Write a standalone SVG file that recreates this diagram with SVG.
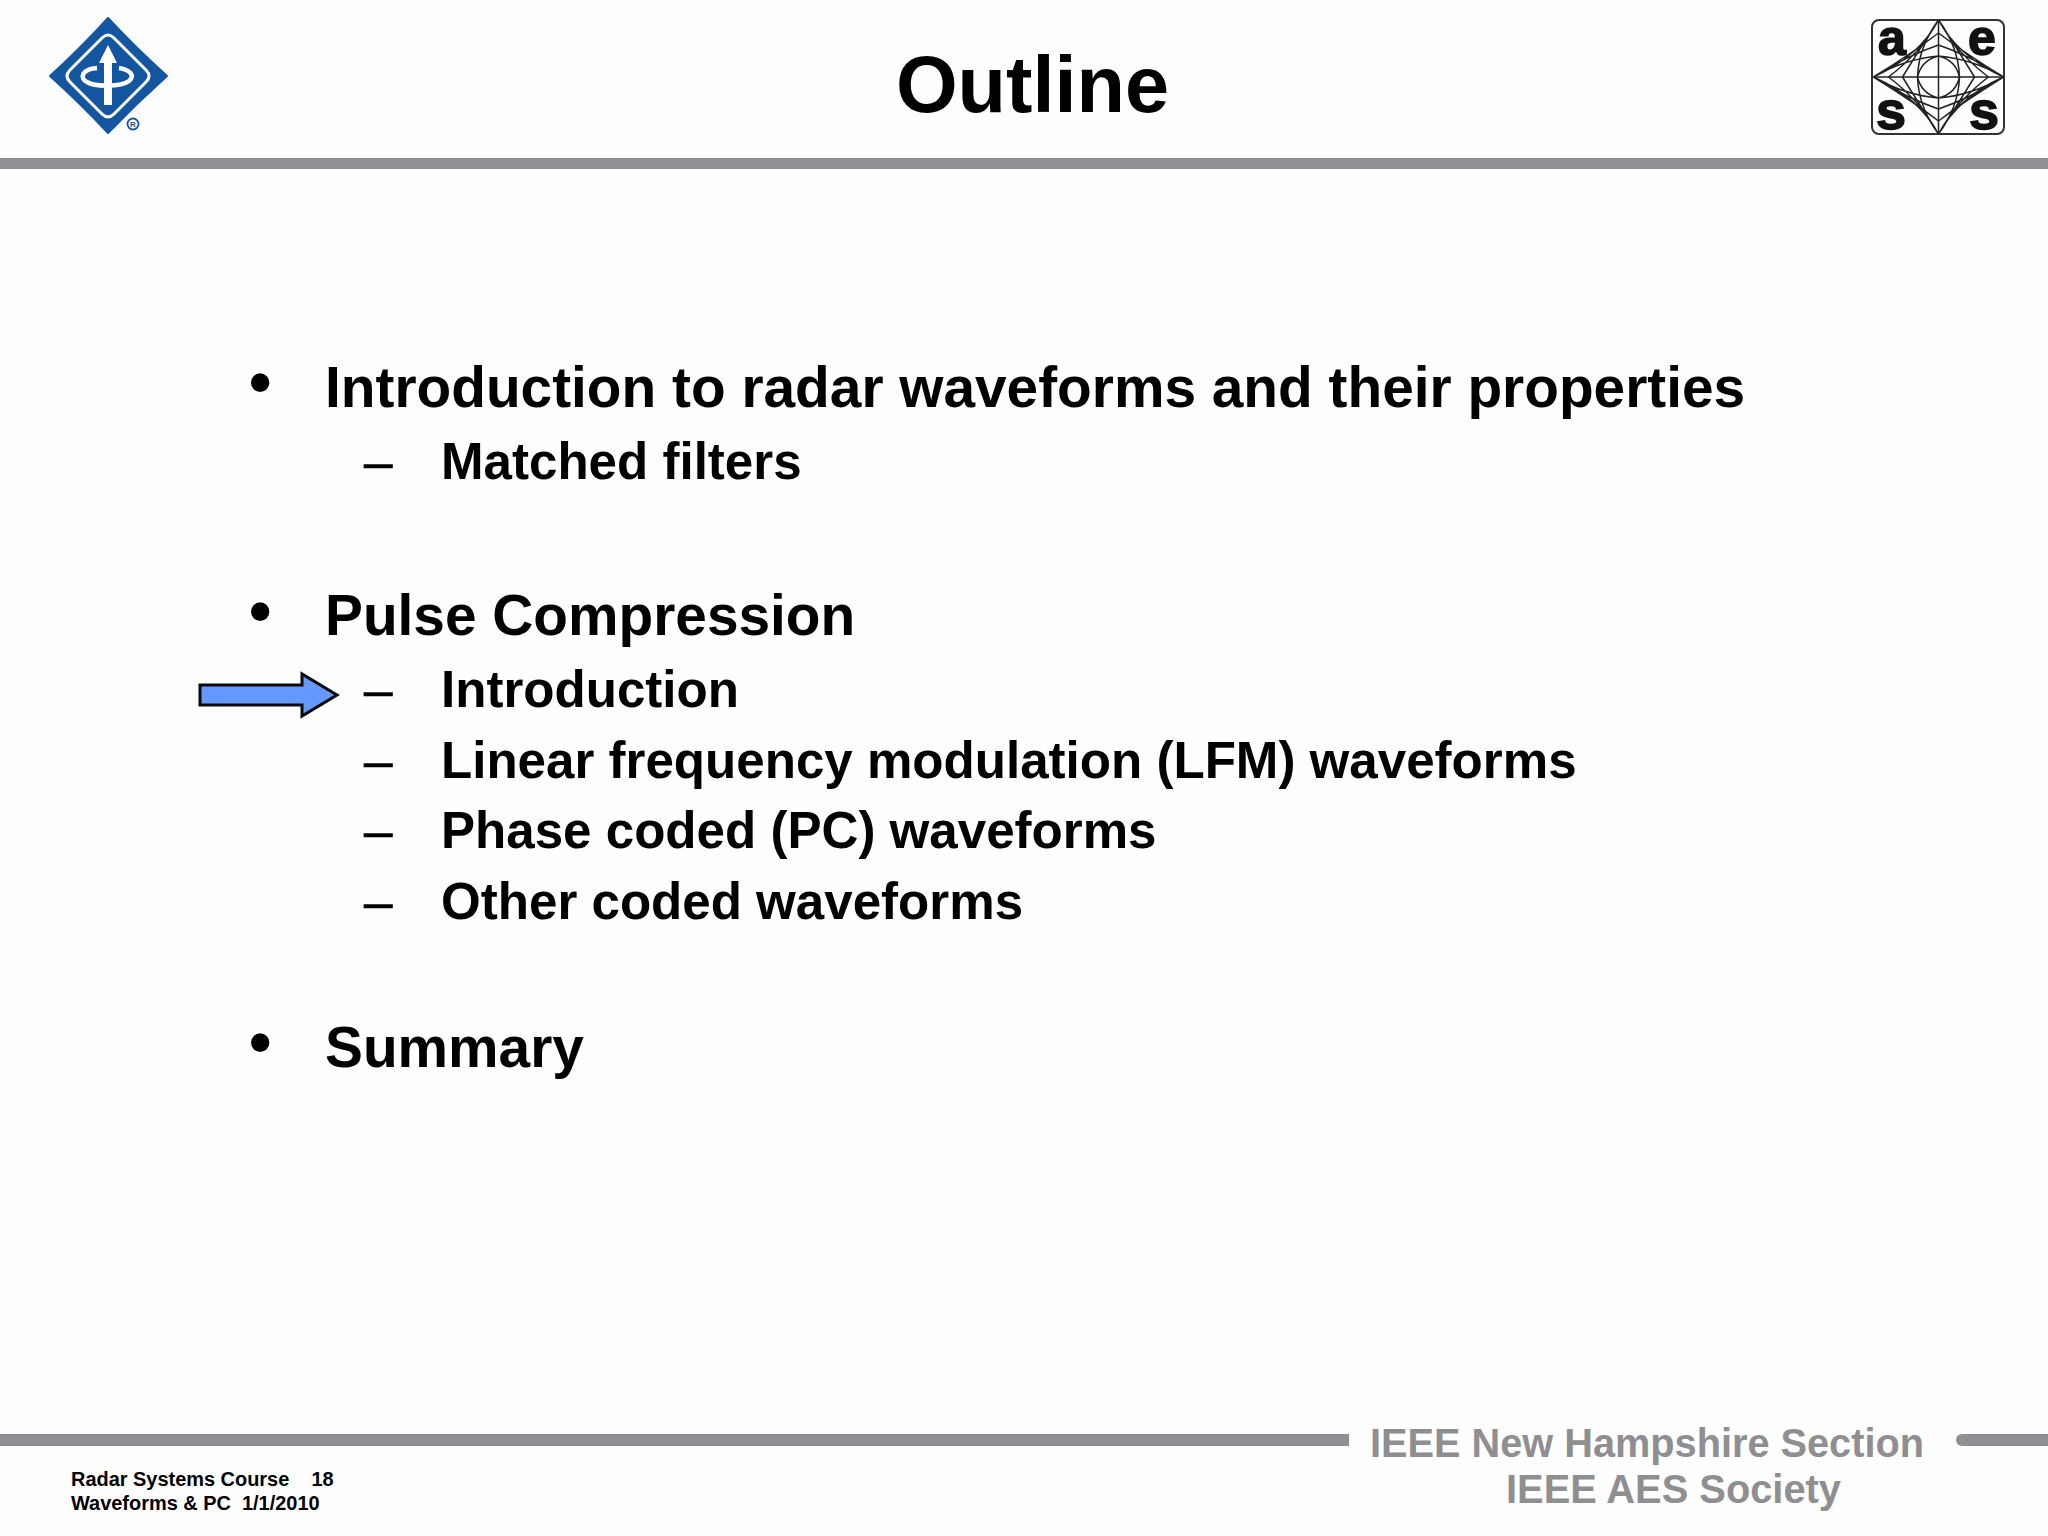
<svg xmlns="http://www.w3.org/2000/svg" width="2048" height="1536" viewBox="0 0 2048 1536">
<style>
text{font-family:"Liberation Sans",Arial,sans-serif;font-weight:700;fill:#000}
.l1{font-size:56.8px}.l2{font-size:51.1px}
.dash{font-size:51.1px;font-weight:400;stroke:#000;stroke-width:.7}
.bul{font-size:64px}
.foot{font-size:19.95px}
.org{font-size:41px;fill:#8f8e90}
.bar{fill:#908f91}
.str{fill:none;stroke:#222;stroke-width:1.5}
.aes{fill:#111;stroke:#111;stroke-width:1.6}
</style>
<defs>
<g id="quad">
<path class="str" d="M0 -57Q20 -20 65 0M0 -44Q26 -24 65 0M0 -32Q30 -22 65 0M0 -21Q34 -18 65 0M0 -57Q18 -24 50 0M0 -57Q20 -26 36 0M0 -57Q20 -30 21 0M0 -21Q17 -17 21 0"/>
</g>
</defs>
<rect width="2048" height="1536" fill="#fefefe"/>
<g id="header">
<rect class="bar" x="0" y="158" width="2048" height="11"/>
<text x="1032.500" y="112" style="font-size:79.300px" text-anchor="middle">Outline</text>
</g>
<g id="ieee-logo">
<path d="M108 18Q137 49 167 76Q136 104 108 133Q80 103 50 76Q80 49 108 18Z" fill="#14559f" stroke="#14559f" stroke-width="2" stroke-linejoin="round"/>
<path d="M102 38Q108 32 114 38L146 70Q152 76 146 82L114 114Q108 120 102 114L70 82Q64 76 70 70Z" fill="none" stroke="#fff" stroke-width="3"/>
<path d="M108 45L117 63H112V105H104V63H99Z" fill="#fff"/>
<path d="M97 68C82 69 79 78 87 82C95 87 121 87 129 81C135 76 131 70 119 68" fill="none" stroke="#fff" stroke-width="4.500"/>
<circle cx="133" cy="124" r="5.500" fill="none" stroke="#14559f" stroke-width="1.800"/>
<text x="133" y="127" text-anchor="middle" style="font-size:8px;fill:#14559f">R</text>
</g>
<g id="aes-logo">
<rect x="1872" y="20" width="132" height="114" rx="7" fill="none" stroke="#333" stroke-width="2"/>
<g transform="translate(1938.500 77)">
<path class="str" d="M0 -57V57M-65 0H65"/>
<use href="#quad"/>
<use href="#quad" transform="scale(-1 1)"/>
<use href="#quad" transform="scale(1 -1)"/>
<use href="#quad" transform="scale(-1 -1)"/>
</g>
<text class="aes" x="1878" y="55" style="font-size:50px">a</text>
<text class="aes" x="1968" y="55" style="font-size:50px">e</text>
<text class="aes" x="1876" y="129" style="font-size:54px">s</text>
<text class="aes" x="1969" y="129" style="font-size:54px">s</text>
</g>
<g id="outline">
<text class="bul" x="249" y="404">•</text>
<text class="l1" x="325" y="407">Introduction to radar waveforms and their properties</text>
<text class="dash" x="364" y="479">–</text>
<text class="l2" x="441" y="479">Matched filters</text>
<text class="bul" x="249" y="632.500">•</text>
<text class="l1" x="325" y="635">Pulse Compression</text>
<text class="dash" x="364" y="707">–</text>
<text class="l2" x="441" y="707">Introduction</text>
<text class="dash" x="364" y="778">–</text>
<text class="l2" x="441" y="778">Linear frequency modulation (LFM) waveforms</text>
<text class="dash" x="364" y="848">–</text>
<text class="l2" x="441" y="848">Phase coded (PC) waveforms</text>
<text class="dash" x="364" y="919">–</text>
<text class="l2" x="441" y="919">Other coded waveforms</text>
<text class="bul" x="249" y="1063.500">•</text>
<text class="l1" x="325" y="1067">Summary</text>
</g>
<g id="pointer-arrow">
<path d="M200 685H302V674L337 695L302 716V705H200Z" fill="#6699ff" stroke="#0a0a0a" stroke-width="3"/>
</g>
<g id="footer">
<rect class="bar" x="0" y="1434" width="1349" height="12"/>
<path class="bar" d="M1962 1434H2048V1446H1962A6 6 0 0 1 1962 1434Z"/>
<text class="foot" x="71" y="1486" xml:space="preserve">Radar Systems Course    18</text>
<text class="foot" x="71" y="1509.500" xml:space="preserve">Waveforms &amp; PC  1/1/2010</text>
<text class="org" x="1370" y="1457" textLength="554" lengthAdjust="spacingAndGlyphs">IEEE New Hampshire Section</text>
<text class="org" x="1506" y="1503" textLength="335" lengthAdjust="spacingAndGlyphs">IEEE AES Society</text>
</g>
</svg>
